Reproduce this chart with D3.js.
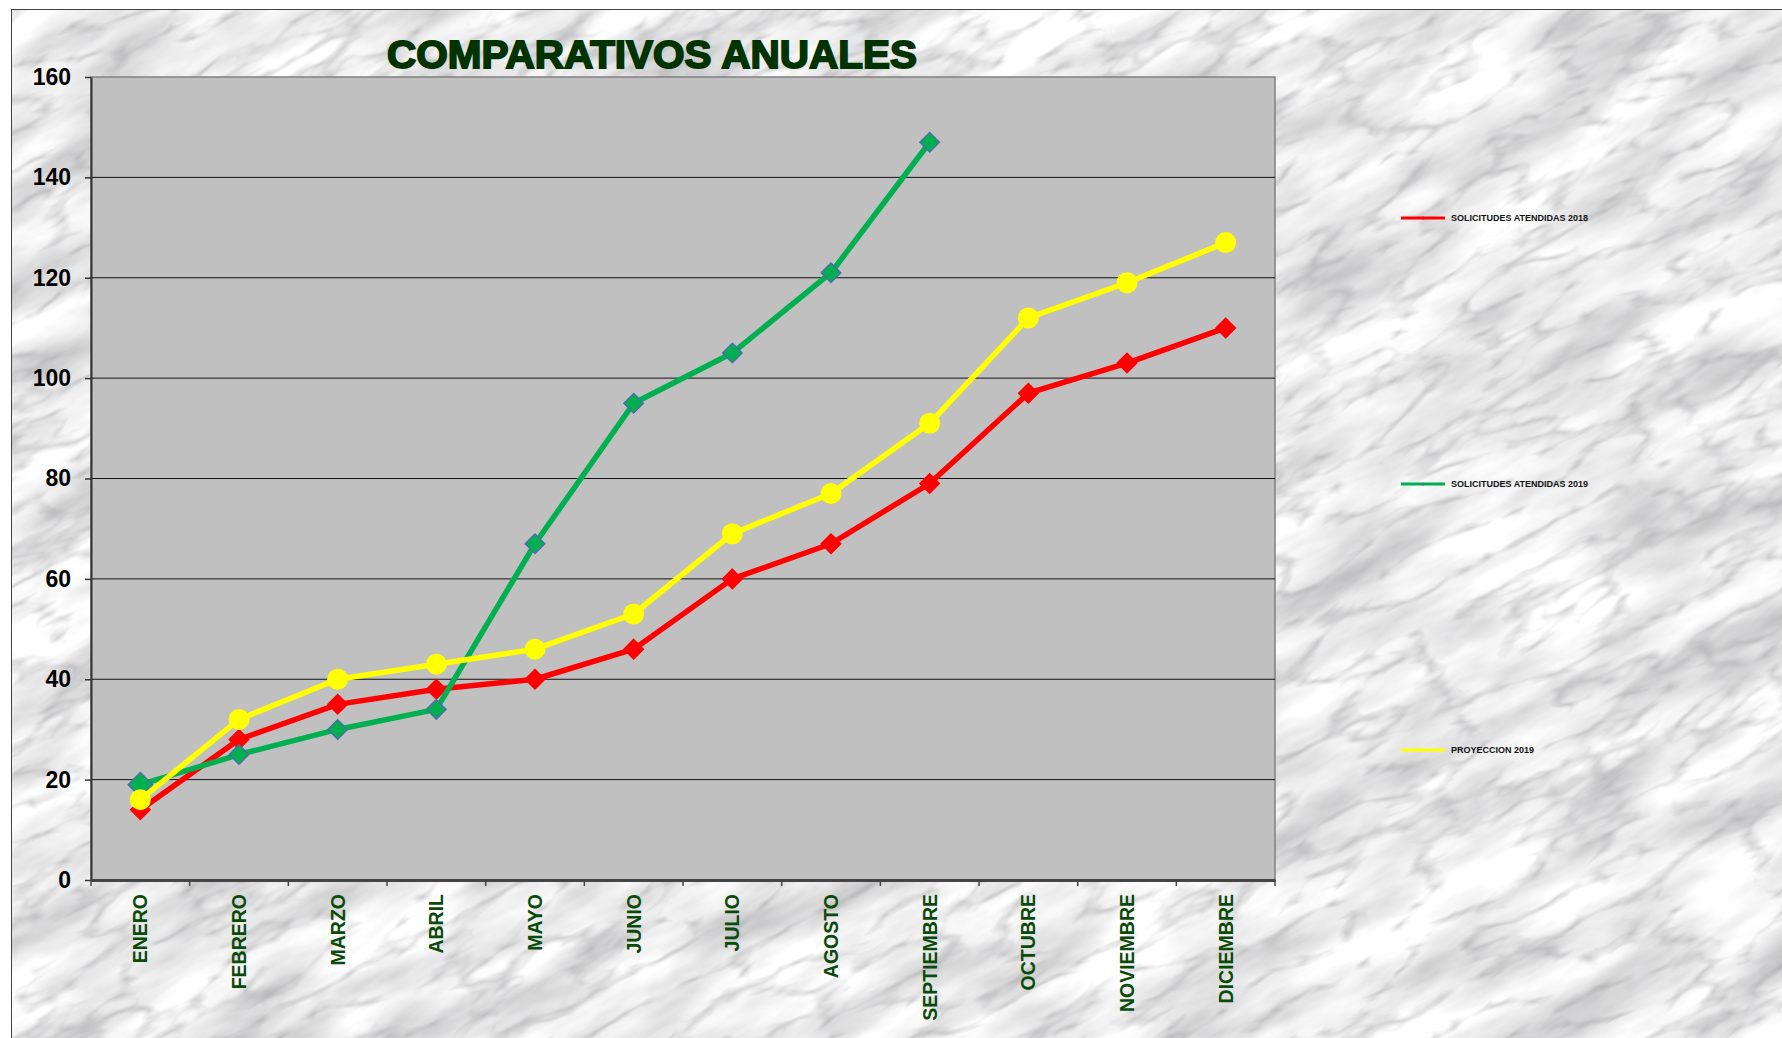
<!DOCTYPE html>
<html>
<head>
<meta charset="utf-8">
<script src="https://cdn.jsdelivr.net/npm/d3@7"></script>
<style>
  body { margin: 0; background: #fff; }
  svg { display: block; }
</style>
</head>
<body>
<svg id="chart"></svg>
<script>
// datos
const months = ["ENERO", "FEBRERO", "MARZO", "ABRIL", "MAYO", "JUNIO", "JULIO",
  "AGOSTO", "SEPTIEMBRE", "OCTUBRE", "NOVIEMBRE", "DICIEMBRE"];
const atendidas2018 = [14, 28, 35, 38, 40, 46, 60, 67, 79, 97, 103, 110];
const atendidas2019 = [19, 25, 30, 34, 67, 95, 105, 121, 147];
const proyeccion2019 = [16, 32, 40, 43, 46, 53, 69, 77, 91, 112, 119, 127];
const yTicks = [0, 20, 40, 60, 80, 100, 120, 140, 160];
const seriesNames = ["SOLICITUDES ATENDIDAS 2018", "SOLICITUDES ATENDIDAS 2019", "PROYECCION 2019"];

const W = 1782, H = 1038;
const plot = { left: 91, top: 77, right: 1275, bottom: 880 };

const svg = d3.select("#chart").attr("width", W).attr("height", H);
const defs = svg.append("defs");

// fondo tipo marmol (no hay imagen, se simula con ruido)
const f = defs.append("filter").attr("id", "marble")
  .attr("x", 0).attr("y", 0).attr("width", 1).attr("height", 1);
f.append("feTurbulence").attr("type", "fractalNoise")
  .attr("baseFrequency", "0.006 0.02").attr("numOctaves", 5).attr("seed", 7).attr("result", "n1");
f.append("feColorMatrix").attr("in", "n1").attr("type", "matrix")
  .attr("values", "0.9 0 0 0 0.40  0.9 0 0 0 0.40  0.9 0 0 0 0.41  0 0 0 0 1").attr("result", "base");
f.append("feTurbulence").attr("type", "turbulence")
  .attr("baseFrequency", "0.01 0.03").attr("numOctaves", 3).attr("seed", 3).attr("result", "n2");
f.append("feColorMatrix").attr("in", "n2").attr("type", "matrix")
  .attr("values", "0 0 0 0 0.35  0 0 0 0 0.35  0 0 0 0 0.36  0 0 0 -2.2 0.55").attr("result", "veins");
f.append("feComposite").attr("in", "veins").attr("in2", "base").attr("operator", "over");

svg.append("g").attr("transform", "rotate(-28 891 519)")
  .append("rect")
  .attr("x", -600).attr("y", -800).attr("width", 3000).attr("height", 2600)
  .attr("fill", "#ddd")
  .attr("filter", "url(#marble)");

// blanco fuera del marco
svg.append("rect").attr("x", 0).attr("y", 0).attr("width", W).attr("height", 9).attr("fill", "#fff");
svg.append("rect").attr("x", 0).attr("y", 0).attr("width", 11).attr("height", H).attr("fill", "#fff");
svg.append("rect").attr("x", 11.5).attr("y", 9.5).attr("width", W).attr("height", H)
  .attr("fill", "none").attr("stroke", "#444").attr("stroke-width", 1);

// escalas
const x = d3.scaleBand().domain(months).range([plot.left, plot.right]);
const y = d3.scaleLinear().domain([0, 160]).range([plot.bottom, plot.top]);
const cx = d => x(d) + x.bandwidth() / 2;

// area del grafico
svg.append("rect")
  .attr("x", plot.left).attr("y", plot.top)
  .attr("width", plot.right - plot.left).attr("height", plot.bottom - plot.top)
  .attr("fill", "#c0c0c0").attr("stroke", "#808080").attr("stroke-width", 1.5);

svg.append("g").selectAll("line")
  .data(yTicks.filter(t => t > 0 && t < 160))
  .join("line")
  .attr("x1", plot.left).attr("x2", plot.right)
  .attr("y1", d => y(d)).attr("y2", d => y(d))
  .attr("stroke", "#111").attr("stroke-width", 1);

// eje Y
const yaxis = svg.append("g")
  .attr("transform", `translate(${plot.left},0)`)
  .call(d3.axisLeft(y).tickValues(yTicks).tickSize(6).tickSizeOuter(0));
yaxis.select(".domain").attr("stroke", "#333").attr("stroke-width", 2);
yaxis.selectAll(".tick line").attr("stroke", "#333").attr("stroke-width", 1.5);
yaxis.selectAll(".tick text")
  .attr("x", -20)
  .style("font-family", "'Liberation Sans Narrow', 'Liberation Sans', Arial, sans-serif")
  .style("font-weight", "bold").style("font-size", "23px").attr("fill", "#000");

// eje X
const xaxis = svg.append("g")
  .attr("transform", `translate(0,${plot.bottom})`)
  .call(d3.axisBottom(x).tickSize(0).tickSizeOuter(0));
xaxis.select(".domain").attr("stroke", "#444").attr("stroke-width", 3);
xaxis.selectAll(".tick text")
  .attr("transform", "rotate(-90)")
  .attr("text-anchor", "end")
  .attr("dy", "0.36em")
  .attr("x", -14).attr("y", 0)
  .style("font-family", "'Liberation Sans', Arial, sans-serif")
  .style("font-weight", "bold").style("font-size", "19.5px").attr("fill", "#0a4a0a");
xaxis.append("g").selectAll("line")
  .data(months.map(m => x(m)).concat([plot.right]))
  .join("line")
  .attr("x1", d => d).attr("x2", d => d)
  .attr("y1", 0).attr("y2", 6)
  .attr("stroke", "#444").attr("stroke-width", 1.5);

// titulo
svg.append("text")
  .attr("x", 652).attr("y", 68)
  .attr("text-anchor", "middle")
  .attr("textLength", 530).attr("lengthAdjust", "spacingAndGlyphs")
  .style("font-family", "'Liberation Sans Narrow', 'Liberation Sans', Arial, sans-serif")
  .style("font-weight", "bold").style("font-size", "39px")
  .attr("fill", "#003300").attr("stroke", "#003300").attr("stroke-width", 1.8)
  .text("COMPARATIVOS ANUALES");

// lineas
const line = d3.line().x(d => cx(d.m)).y(d => y(d.v));
const toPts = arr => arr.map((v, i) => ({ m: months[i], v: v }));

const series = [
  { name: seriesNames[0], data: toPts(atendidas2018), color: "#ff0000", marker: "diamond", stroke: "#ff0000" },
  { name: seriesNames[1], data: toPts(atendidas2019), color: "#00b050", marker: "diamond", stroke: "#4a6fa5" },
  { name: seriesNames[2], data: toPts(proyeccion2019), color: "#ffff00", marker: "circle", stroke: "#ffff00" }
];

const sDiamond = d3.symbol().type(d3.symbolDiamond2);

series.forEach(s => {
  const g = svg.append("g");
  g.append("path")
    .attr("d", line(s.data))
    .attr("fill", "none").attr("stroke", s.color)
    .attr("stroke-width", 5.5).attr("stroke-linejoin", "round");
  if (s.marker === "circle") {
    g.selectAll("circle").data(s.data).join("circle")
      .attr("cx", d => cx(d.m)).attr("cy", d => y(d.v))
      .attr("r", 10.5).attr("fill", s.color);
  } else {
    g.selectAll("path.mk").data(s.data).join("path")
      .attr("class", "mk")
      .attr("transform", d => `translate(${cx(d.m)},${y(d.v)})`)
      .attr("d", (d, i) => sDiamond.size((s.name === seriesNames[1] && i === 0) ? 380 : 240)())
      .attr("fill", s.color).attr("stroke", s.stroke).attr("stroke-width", 1.5);
  }
});

// leyenda
const legendY = [218, 484, 750];
const leg = svg.append("g");
series.forEach((s, i) => {
  const g = leg.append("g").attr("transform", `translate(1401,${legendY[i]})`);
  g.append("line").attr("x1", 0).attr("x2", 44).attr("y1", 0).attr("y2", 0)
    .attr("stroke", s.color).attr("stroke-width", 3);
  g.append("circle").attr("cx", 22).attr("cy", 0).attr("r", 1.5)
    .attr("fill", s.marker === "circle" ? s.color : s.stroke);
  g.append("text").attr("x", 50).attr("y", 0).attr("dy", "0.35em")
    .style("font-family", "'Liberation Sans', Arial, sans-serif")
    .style("font-weight", "bold").style("font-size", "9px").attr("fill", "#111")
    .text(s.name);
});
</script>
</body>
</html>
